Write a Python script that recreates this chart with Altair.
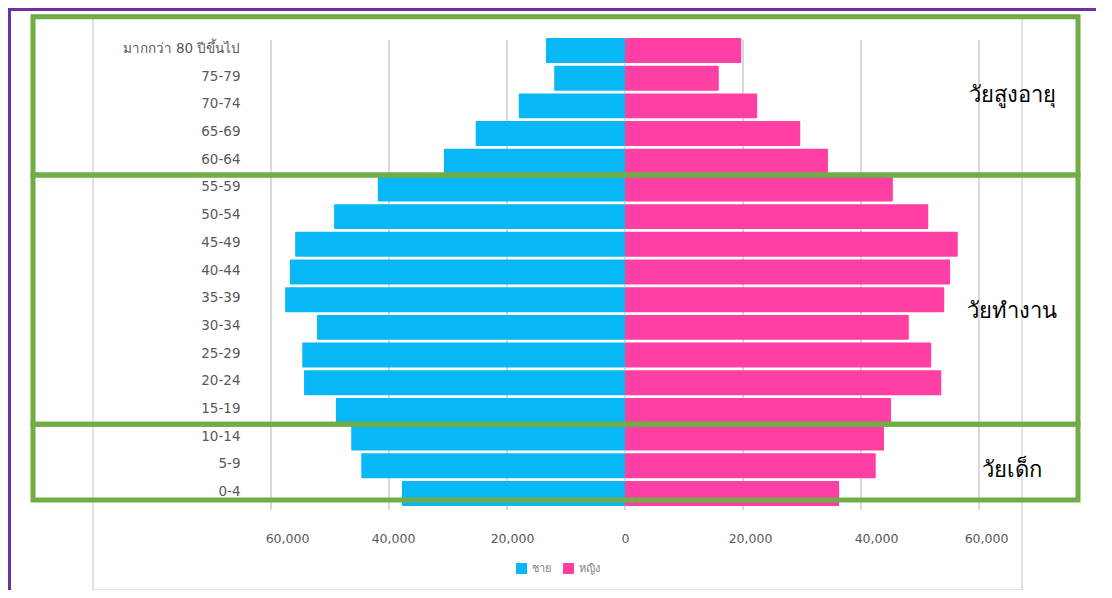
import json
import altair as alt
import pandas as pd

# ---------------- data ----------------
ages = ["0-4", "5-9", "10-14", "15-19", "20-24", "25-29", "30-34", "35-39",
        "40-44", "45-49", "50-54", "55-59", "60-64", "65-69", "70-74", "75-79",
        "มากกว่า 80 ปีขึ้นไป"]
male = [37800, 44700, 46400, 49000, 54400, 54700, 52200, 57600,
        56800, 55900, 49300, 41900, 30700, 25300, 18000, 12000, 13400]
female = [36300, 42500, 43900, 45100, 53600, 51900, 48100, 54100,
          55100, 56400, 51400, 45400, 34400, 29700, 22400, 15900, 19700]
sex_names = ["ชาย", "หญิง"]
sex_colors = ["#08B8F6", "#FF3FA3"]

tick_vals = [-60000, -40000, -20000, 0, 20000, 40000, 60000]

groups = ["วัยเด็ก", "วัยทำงาน", "วัยสูงอายุ"]
group_lo = [-0.23, 2.5, 11.5]
group_hi = [2.5, 11.5, 17.22]
group_label_y = [0.85, 6.6, 14.4]

# ---------------- tables ----------------
rows = []
for i, a in enumerate(ages):
    rows.append({"age": a, "idx": i, "sex": sex_names[0], "v": -male[i]})
    rows.append({"age": a, "idx": i, "sex": sex_names[1], "v": female[i]})
bars_df = pd.DataFrame(rows)
ticks_df = pd.DataFrame({"v": tick_vals})
groups_df = pd.DataFrame({"g": groups, "lo": group_lo, "hi": group_hi, "ly": group_label_y})
one = pd.DataFrame({"a": [0]})

W, H = 929, 573
FONT = "DejaVu Sans"

xscale = alt.Scale(domain=[-90169, 67288], nice=False, zero=False)
yscale = alt.Scale(domain=[-3.485, 17.21], nice=False, zero=False)

label_expr = json.dumps(ages) + "[datum.value]"
yaxis = alt.Axis(values=list(range(len(ages))), labelExpr=label_expr, offset=-151,
                 labelPadding=4, ticks=False, domain=False, grid=False, title=None,
                 labelFontSize=13.5, labelColor="#595959", labelFont=FONT,
                 labelOffset=-2, labelOverlap=False)

grid = alt.Chart(ticks_df).mark_rule(color="#D9D9D9", strokeWidth=2).encode(
    x=alt.X("v:Q", scale=xscale, axis=None),
    y=alt.value(23),
    y2=alt.value(493),
)

bars = alt.Chart(bars_df).transform_calculate(
    y0="datum.idx - 0.45", y1="datum.idx + 0.45"
).mark_bar(cornerRadius=1).encode(
    x=alt.X("v:Q", scale=xscale, axis=None),
    x2=alt.datum(0),
    y=alt.Y("y0:Q", scale=yscale, axis=yaxis),
    y2="y1:Q",
    color=alt.Color("sex:N", scale=alt.Scale(domain=sex_names, range=sex_colors),
                    legend=alt.Legend(orient="none", legendX=423, legendY=546,
                                      direction="horizontal", title=None,
                                      symbolType="square", symbolSize=121,
                                      symbolStrokeWidth=0, labelFontSize=11,
                                      labelColor="#7F7F7F", labelFont=FONT,
                                      padding=0, columnPadding=12,
                                      labelOffset=5)),
)

# tick labels along the perspective front edge
front_px = [194, 300, 419, 532, 657, 783, 893]
xlabels = alt.Chart(ticks_df).mark_point(opacity=0).encode(
    x=alt.X("v:Q", scale=alt.Scale(domain=tick_vals, range=front_px),
            axis=alt.Axis(values=tick_vals, labelExpr="format(abs(datum.value), ',')",
                          orient="bottom", offset=-58, ticks=False, domain=False,
                          grid=False, labelPadding=0, labelFontSize=12.5,
                          labelColor="#595959", labelFont=FONT, title=None,
                          labelFlush=False, labelOverlap=False)),
)

boxes = alt.Chart(groups_df).mark_rect(fillOpacity=0, stroke="#70AD47", strokeWidth=5).encode(
    x=alt.value(-60),
    x2=alt.value(985),
    y=alt.Y("lo:Q", scale=yscale, axis=yaxis),
    y2="hi:Q",
)

glabels = alt.Chart(groups_df).mark_text(font="serif", fontSize=22, color="#000000",
                                         align="center", baseline="middle").encode(
    x=alt.value(919),
    y=alt.Y("ly:Q", scale=yscale, axis=yaxis),
    text="g:N",
)

purple_top = alt.Chart(one).mark_rule(color="#7030A0", strokeWidth=3).encode(
    x=alt.value(-85), x2=alt.value(1003), y=alt.value(-7.5))
purple_left = alt.Chart(one).mark_rule(color="#7030A0", strokeWidth=3).encode(
    x=alt.value(-83.5), y=alt.value(-8), y2=alt.value(H))

chart = alt.layer(grid, bars, xlabels, boxes, glabels, purple_top, purple_left).resolve_scale(
    x="independent"
).properties(
    width=W, height=H,
    padding={"left": 85, "top": 9, "right": 82, "bottom": 0},
    autosize=alt.AutoSizeParams(type="none"),
    background="white",
).configure_view(stroke="#D9D9D9", strokeWidth=1.5)

chart.save("out.html", embed_options={"renderer": "svg", "actions": False})
